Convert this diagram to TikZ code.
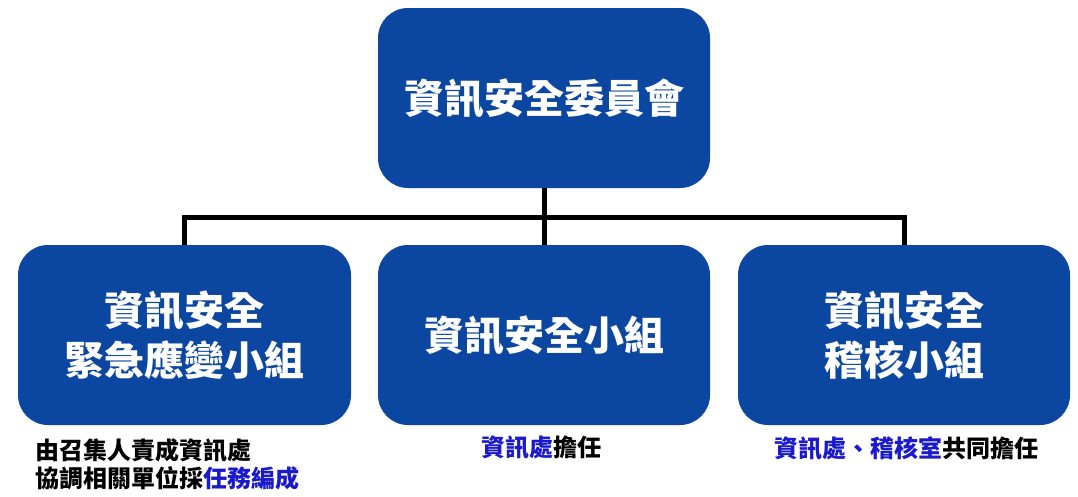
\documentclass[tikz,border=0pt]{standalone}
\usepackage{fontspec}
\newfontfamily\cjk{Noto Sans CJK TC}
\usetikzlibrary{positioning}

\definecolor{boxblue}{RGB}{11,71,161}
\definecolor{noteblue}{RGB}{26,26,204}

\tikzset{
    unit/.style={rectangle, rounded corners=30pt, fill=boxblue, text=white,
        minimum width=332pt, minimum height=180pt, align=center,
        font=\cjk\bfseries\fontsize{40}{50}\selectfont},
    note/.style={inner sep=0pt, align=left,
        font=\cjk\bfseries\fontsize{24}{28}\selectfont},
    link/.style={line width=5pt},
}

\begin{document}
\begin{tikzpicture}[x=1pt, y=-1pt]
    \useasboundingbox (0,0) rectangle (1078,496);
    %
    \node [unit] (board) at (544,98) {資訊安全委員會};
    \node [unit, minimum width=333pt] (cert) at (184.5,335) {資訊安全\\緊急應變小組};
    \node [unit] (team) at (544,335) {資訊安全小組};
    \node [unit] (audit) at (904,335) {資訊安全\\稽核小組};
    %
    \coordinate (bus) at (544,217);
    \draw [link] (board.south) -- (team.north);
    \draw [link] (cert.north) |- (bus) -| (audit.north);
    %
    \node [note, anchor=north west] (certnote) at (35,438)
        {由召集人責成資訊處\\協調相關單位採\textcolor{noteblue}{任務編成}};
    \node [note, anchor=north] (teamnote) at (541,436)
        {\textcolor{noteblue}{資訊處}擔任};
    \node [note, anchor=north] (auditnote) at (906,436)
        {\textcolor{noteblue}{資訊處、稽核室}共同擔任};
\end{tikzpicture}
\end{document}
